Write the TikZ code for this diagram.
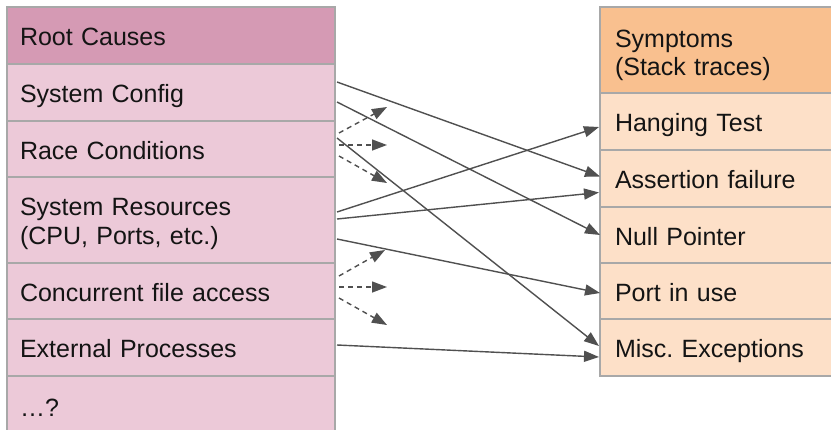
\documentclass[tikz,border=0pt]{standalone}
\usepackage{fontspec}
\setmainfont{Liberation Sans}
\usetikzlibrary{arrows.meta,calc}

\definecolor{causehead}{RGB}{213,154,180}
\definecolor{causerow}{RGB}{236,201,216}
\definecolor{symhead}{RGB}{249,192,143}
\definecolor{symrow}{RGB}{253,224,200}
\definecolor{cellline}{RGB}{168,168,168}
\definecolor{wire}{RGB}{80,80,80}
\definecolor{ink}{RGB}{20,20,20}

\begin{document}
\frenchspacing
\begin{tikzpicture}[x=1pt,y=-1pt,
  cell/.style={rectangle, draw=cellline, line width=1.2pt, outer sep=0pt,
    anchor=north west, align=left, text=ink,
    font=\fontsize{25pt}{28.5pt}\selectfont,
    text height=24.5pt, text depth=4.4pt},
  cause/.style={cell, fill=causerow, inner xsep=13pt, text width=302pt},
  causetop/.style={cause, fill=causehead},
  symptom/.style={cell, fill=symrow, inner xsep=15pt, text width=215pt},
  symtop/.style={symptom, fill=symhead},
  link/.style={draw=wire, line width=1.4pt,
    -{Triangle[length=15pt,width=11pt]}},
  maybe/.style={link, dash pattern=on 5pt off 4pt}
]
\clip (0,0) rectangle (831,429);
\fill[white] (0,0) rectangle (831,429);

% root causes column
\node[causetop, minimum height=57pt] (rc)   at (7,7)   {Root Causes};
\node[cause,    minimum height=57pt] (sc)   at (7,64)  {System Config};
\node[cause,    minimum height=56pt] (race) at (7,121) {Race Conditions};
\node[cause,    minimum height=86pt, text height=23pt, text depth=32pt]
                                     (res)  at (7,177) {System Resources\\(CPU, Ports, etc.)};
\node[cause,    minimum height=56pt] (conc) at (7,263) {Concurrent file access};
\node[cause,    minimum height=57pt] (ext)  at (7,319) {External Processes};
\node[cause,    minimum height=60pt] (more) at (7,376) {\dots?};

% symptoms column
\node[symtop,  minimum height=86pt, text height=24.5pt, text depth=30pt]
                                      (sym)  at (600,7)   {Symptoms\\(Stack traces)};
\node[symptom, minimum height=57pt] (hang) at (600,93)  {Hanging Test};
\node[symptom, minimum height=57pt] (asrt) at (600,150) {Assertion failure};
\node[symptom, minimum height=56pt] (np)   at (600,207) {Null Pointer};
\node[symptom, minimum height=56pt] (port) at (600,263) {Port in use};
\node[symptom, minimum height=57pt] (misc) at (600,319) {Misc. Exceptions};

% known cause -> symptom links
\draw[link] ($(sc.east)+(2,-10.5)$)  -- ($(asrt.west)+(0,-2)$);
\draw[link] ($(sc.east)+(2,9.5)$)    -- (np.west);
\draw[link] ($(race.east)+(2,-11)$)  -- ($(misc.west)+(-1,-1.5)$);
\draw[link] ($(res.east)+(2,-8)$)    -- ($(hang.west)+(-1,5.5)$);
\draw[link] ($(res.east)+(2,-1)$)    -- ($(asrt.west)+(-1,14)$);
\draw[link] ($(res.east)+(2,19)$)    -- ($(port.west)+(0,2)$);
\draw[link] ($(ext.east)+(2,-2.5)$)  -- ($(misc.west)+(-1,9.5)$);

% open-ended links
\coordinate (r1) at ($(race.east)+(52,-42)$);
\coordinate (r2) at ($(race.east)+(52,-4)$);
\coordinate (r3) at ($(race.east)+(52,34)$);
\draw[maybe] ($(race.east)+(4,-16)$) -- (r1);
\draw[maybe] ($(race.east)+(4,-4)$)  -- (r2);
\draw[maybe] ($(race.east)+(4,7)$)   -- (r3);

\coordinate (c1) at ($(conc.east)+(50,-41)$);
\coordinate (c2) at ($(conc.east)+(52,-4)$);
\coordinate (c3) at ($(conc.east)+(52,34)$);
\draw[maybe] ($(conc.east)+(4,-15)$) -- (c1);
\draw[maybe] ($(conc.east)+(4,-4)$)  -- (c2);
\draw[maybe] ($(conc.east)+(4,7)$)   -- (c3);
\end{tikzpicture}
\end{document}
